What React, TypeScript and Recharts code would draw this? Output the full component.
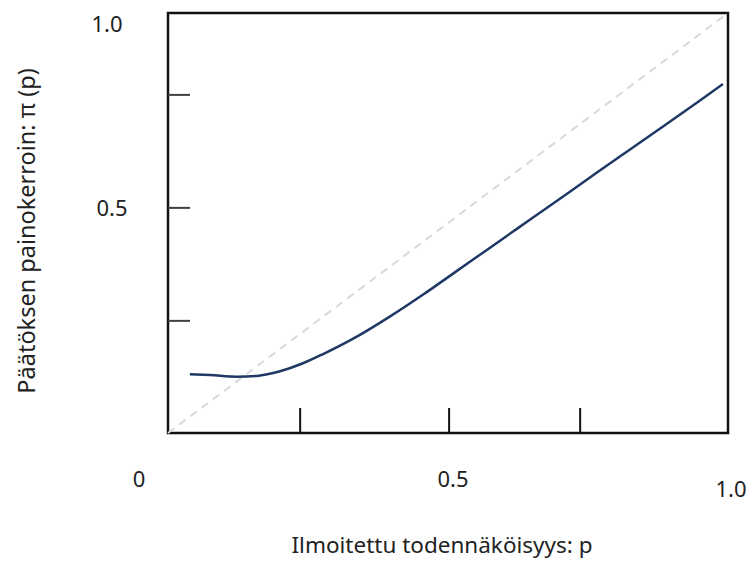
import {
  ComposedChart,
  Line,
  XAxis,
  YAxis,
  ReferenceArea,
  ReferenceLine,
  Label,
} from "recharts";

// reported probability p
const pValues = [
  0.039, 0.075, 0.123, 0.159, 0.2, 0.241, 0.277, 0.338, 0.396, 0.455, 0.516,
  0.563, 0.623, 0.682, 0.766, 0.825, 0.884, 0.945, 0.991,
];
// decision weight pi(p)
const piValues = [
  0.14, 0.138, 0.134, 0.136, 0.147, 0.166, 0.188, 0.23, 0.277, 0.329, 0.386,
  0.43, 0.486, 0.541, 0.62, 0.675, 0.73, 0.787, 0.831,
];

const xTickMarks = [0.236, 0.502, 0.736];
const xTickLabels = ["0", "0.5", "1.0"];
const xLabelAt = [0, 0.509, 1];

const yTickMarks = [0.267, 0.536, 0.805];
const yTickLabels = ["0.5", "1.0"];
const yLabelAt = [0.536, 0.974];

const data = pValues.map((p, i) => ({ p, pi: piValues[i] }));

const FONT = "'Noto Sans', 'Open Sans', sans-serif";
const PLOT_LEFT = 168;
const PLOT_BOTTOM = 433;

const XTick = (props: any) => {
  const { x, payload } = props;
  const v = payload.value;
  const out: any[] = [];
  if (xTickMarks.includes(v)) {
    out.push(
      <line key="m" x1={x} x2={x} y1={PLOT_BOTTOM} y2={PLOT_BOTTOM - 25} stroke="#111" strokeWidth={2} />
    );
  }
  const li = xLabelAt.indexOf(v);
  if (li >= 0) {
    const dx = v === 0 ? -29 : v === 1 ? 3 : 0;
    const cy = v === 1 ? 489 : 479;
    out.push(
      <text key="l" x={x + dx} y={cy} dy="0.35em" textAnchor="middle" fontFamily={FONT} fontSize={22} fill="#222">
        {xTickLabels[li]}
      </text>
    );
  }
  return <g>{out}</g>;
};

const YTick = (props: any) => {
  const { y, payload } = props;
  const v = payload.value;
  const out: any[] = [];
  if (yTickMarks.includes(v)) {
    out.push(
      <line key="m" x1={PLOT_LEFT} x2={PLOT_LEFT + 22} y1={y} y2={y} stroke="#404040" strokeWidth={2} />
    );
  }
  const li = yLabelAt.indexOf(v);
  if (li >= 0) {
    const cx = v > 0.9 ? 107 : 112;
    out.push(
      <text key="l" x={cx} y={y} dy="0.35em" textAnchor="middle" fontFamily={FONT} fontSize={22} fill="#222">
        {yTickLabels[li]}
      </text>
    );
  }
  return <g>{out}</g>;
};

export default function App() {
  return (
    <div style={{ position: "absolute", left: 0, top: 0, width: 749, height: 561 }}>
      <ComposedChart
        width={749}
        height={561}
        data={data}
        margin={{ top: 13, right: 21, bottom: 0, left: 0 }}
      >
        <XAxis
          type="number"
          dataKey="p"
          domain={[0, 1]}
          ticks={[0, ...xTickMarks, 0.509, 1]}
          interval={0}
          tick={<XTick />}
          tickLine={false}
          axisLine={false}
          height={128}
          allowDataOverflow
        >
          <Label
            content={() => (
              <text x={442} y={545} dy="0.35em" textAnchor="middle" fontFamily={FONT} fontSize={22.5} fill="#222">
                Ilmoitettu todennäköisyys: p
              </text>
            )}
          />
        </XAxis>
        <YAxis
          type="number"
          domain={[0, 1]}
          ticks={[...yTickMarks, 0.974]}
          interval={0}
          tick={<YTick />}
          tickLine={false}
          axisLine={false}
          width={168}
          allowDataOverflow
        >
          <Label
            content={() => (
              <text
                x={27}
                y={231}
                dy="0.35em"
                textAnchor="middle"
                fontFamily={FONT}
                fontSize={23.5}
                fill="#222"
                transform="rotate(-90 27 231)"
              >
                Päätöksen painokerroin: π (p)
              </text>
            )}
          />
        </YAxis>
        <ReferenceLine
          segment={[
            { x: 0, y: 0 },
            { x: 1, y: 1 },
          ]}
          stroke="#d9d9d9"
          strokeWidth={2}
          strokeDasharray="8 6"
        />
        <ReferenceArea x1={0} x2={1} y1={0} y2={1} fill="none" stroke="#111" strokeWidth={2.5} />
        <Line
          type="monotone"
          dataKey="pi"
          stroke="#1f3864"
          strokeWidth={2.5}
          dot={false}
          isAnimationActive={false}
        />
      </ComposedChart>
    </div>
  );
}
